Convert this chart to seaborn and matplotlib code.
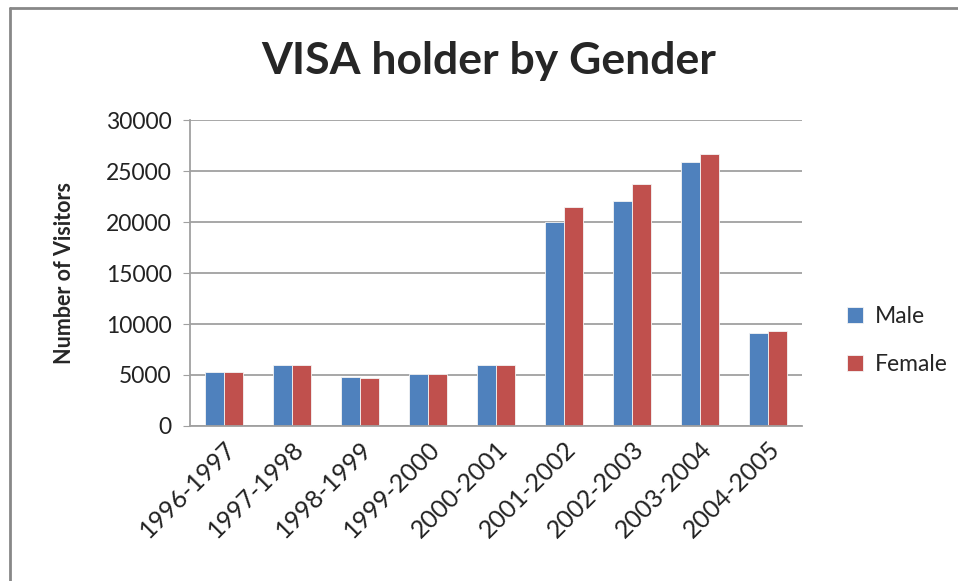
import pandas as pd
import numpy as np
import matplotlib.pyplot as plt
import seaborn as sns
from matplotlib.lines import Line2D

years = ["1996-1997", "1997-1998", "1998-1999", "1999-2000", "2000-2001",
         "2001-2002", "2002-2003", "2003-2004", "2004-2005"]
male = [5300, 5950, 4820, 5050, 5950, 20050, 22100, 25900, 9100]
female = [5300, 5950, 4720, 5050, 5950, 21450, 23750, 26700, 9280]

df = pd.DataFrame({"Year": years * 2,
                   "Visitors": male + female,
                   "Gender": ["Male"] * len(years) + ["Female"] * len(years)})

sns.set_style("white")
plt.rcParams['font.family'] = ['Lato', 'DejaVu Sans']

fig = plt.figure(figsize=(9.58, 5.81), dpi=100)
ax = fig.add_axes([0.198, 0.267, 0.639, 0.526])

sns.barplot(data=df, x="Year", y="Visitors", hue="Gender",
            palette={"Male": "#4F81BD", "Female": "#C0504D"}, saturation=1,
            width=0.56, gap=0, ax=ax, legend=True, edgecolor='#f4f4f4', linewidth=0.6)

ax.set_ylim(0, 30000)
ax.set_yticks(range(0, 30001, 5000))
ax.set_xlim(-0.5, len(years) - 0.5)
ax.grid(axis='y', color='#a0a0a0', lw=1.3)
ax.set_axisbelow(True)
for s in ['top', 'right']:
    ax.spines[s].set_visible(False)
for s in ['left', 'bottom']:
    ax.spines[s].set_color('#a0a0a0')
    ax.spines[s].set_linewidth(1.3)
ax.tick_params(axis='y', length=5, color='#a0a0a0', labelsize=16.5, pad=8, left=True,
               labelcolor='#222222')
ax.tick_params(axis='x', length=0, labelsize=18, pad=8, labelcolor='#222222')
plt.setp(ax.get_xticklabels(), rotation=45, ha='right', rotation_mode='anchor')
ax.set_xlabel("")
ax.set_ylabel("Number of Visitors", fontsize=15.5, fontweight='bold', labelpad=22)

fig.text(0.51, 0.895, "VISA holder by Gender", ha='center', va='center',
         fontsize=32, fontweight='bold')

ax.legend(loc='center left', bbox_to_anchor=(1.04, 0.28), frameon=False,
          fontsize=16.5, handlelength=0.7, handleheight=0.7, labelspacing=1.2,
          handletextpad=0.5)

# outer chart border (top and left edges visible in the crop)
fig.add_artist(Line2D([10 / 958, 1], [1 - 8 / 581, 1 - 8 / 581], color='#888888', lw=2))
fig.add_artist(Line2D([10 / 958, 10 / 958], [0, 1 - 8 / 581], color='#888888', lw=2))

fig.savefig("out.png", dpi=100)
